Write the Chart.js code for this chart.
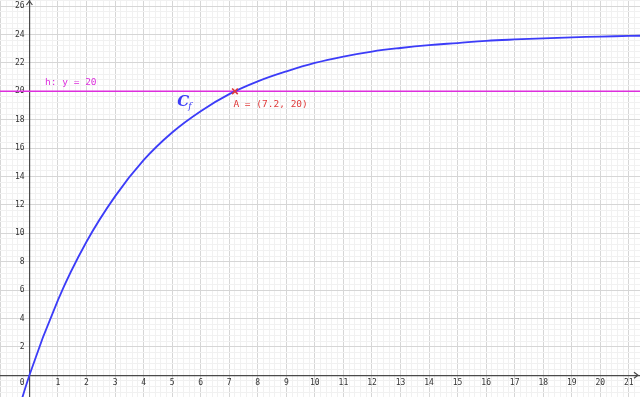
<!DOCTYPE html>
<html>
<head>
<meta charset="utf-8">
<script src="https://cdn.jsdelivr.net/npm/chart.js@4/dist/chart.umd.min.js"></script>
<style>
html,body{margin:0;padding:0;background:#fff}
canvas{display:block}
</style>
</head>
<body>
<canvas id="chart" width="640" height="397"></canvas>
<script>
// curve C_f
const curveX = [-1, 0, 1, 2, 3, 4, 5, 6, 7, 8, 9, 10, 11, 12, 13, 14, 15, 16, 17, 18, 19, 20, 21, 22];
const curveY = [-6.8, 0, 5.3, 9.4, 12.6, 15.15, 17.1, 18.6, 19.8, 20.7, 21.4, 22.0, 22.45, 22.8, 23.05, 23.25, 23.4, 23.55, 23.65, 23.73, 23.8, 23.85, 23.9, 23.93];
const hY = 20;
const pointA = { x: 7.2, y: 20 };
const xTickValues = [0,1,2,3,4,5,6,7,8,9,10,11,12,13,14,15,16,17,18,19,20,21];
const yTickValues = [2,4,6,8,10,12,14,16,18,20,22,24,26];
const xRange = [-1.03, 21.39];
const yRange = [-1.53, 26.43];

const BLUE = '#3c3cf8', MAGENTA = '#dd2edd', RED = '#e03a3a', AXIS = '#4a4a4a';
const MONO = '"DejaVu Sans Mono", monospace';

const isInt = (v, step) => Math.abs(v / step - Math.round(v / step)) < 1e-6;
const noPad = s => { s.paddingLeft = s.paddingRight = s.paddingTop = s.paddingBottom = 0; };

const extras = {
  id: 'extras',
  afterDatasetsDraw(c) {
    const { ctx, scales: { x, y } } = c;
    const ox = x.getPixelForValue(0), oy = y.getPixelForValue(0);
    ctx.save();
    // axis arrows
    ctx.strokeStyle = AXIS; ctx.lineWidth = 1.2;
    ctx.beginPath();
    ctx.moveTo(ox - 3, 5); ctx.lineTo(ox, 1); ctx.lineTo(ox + 3, 5);
    ctx.moveTo(c.width - 6, oy - 3); ctx.lineTo(c.width - 2, oy); ctx.lineTo(c.width - 6, oy + 3);
    ctx.stroke();
    // line label
    ctx.font = '9.5px ' + MONO;
    ctx.textBaseline = 'alphabetic';
    ctx.fillStyle = MAGENTA;
    ctx.fillText('h: y = ' + hY, x.getPixelForValue(0.55), y.getPixelForValue(hY) - 6.5);
    // point label
    ctx.fillStyle = RED;
    ctx.fillText('A = (' + pointA.x + ', ' + pointA.y + ')', x.getPixelForValue(pointA.x) - 1.5, y.getPixelForValue(pointA.y) + 15.5);
    // curve name
    ctx.fillStyle = BLUE;
    ctx.font = 'italic bold 15px "DejaVu Serif", serif';
    const cx = x.getPixelForValue(5.18), cy = y.getPixelForValue(18.97);
    ctx.fillText('C', cx, cy);
    ctx.font = 'italic 9px "DejaVu Serif", serif';
    ctx.fillText('f', cx + 11, cy + 3);
    ctx.restore();
  }
};

new Chart(document.getElementById('chart'), {
  type: 'line',
  data: {
    datasets: [
      {
        label: 'A',
        type: 'scatter',
        data: [pointA],
        pointStyle: 'crossRot',
        pointRadius: 4,
        pointBorderWidth: 1.6,
        borderColor: RED,
        backgroundColor: RED,
        order: 0
      },
      {
        label: 'Cf',
        data: curveX.map((v, i) => ({ x: v, y: curveY[i] })),
        borderColor: BLUE,
        borderWidth: 1.8,
        pointRadius: 0,
        tension: 0.4,
        fill: false,
        order: 1
      },
      {
        label: 'h',
        data: [{ x: xRange[0] - 1, y: hY }, { x: xRange[1] + 1, y: hY }],
        borderColor: MAGENTA,
        borderWidth: 1.4,
        pointRadius: 0,
        fill: false,
        order: 2
      }
    ]
  },
  options: {
    responsive: false,
    animation: false,
    layout: { padding: 0, autoPadding: false },
    plugins: { legend: { display: false }, tooltip: { enabled: false } },
    scales: {
      x: {
        type: 'linear',
        position: { y: 0 },
        min: xRange[0],
        max: xRange[1],
        afterFit: noPad,
        grid: {
          drawTicks: false,
          color: ctx => isInt(ctx.tick.value, 1) ? '#d6d6d6' : '#f1f1f1',
          lineWidth: 1
        },
        border: { display: true, color: AXIS, width: 1.2 },
        ticks: {
          stepSize: 0.2,
          includeBounds: false,
          autoSkip: false,
          maxRotation: 0,
          padding: 3,
          color: '#333',
          font: { family: MONO, size: 8 },
          callback: v => {
            const r = Math.round(v);
            if (!isInt(v, 1) || !xTickValues.includes(r)) return '';
            return r === 0 ? '0   ' : String(r);
          }
        }
      },
      y: {
        type: 'linear',
        position: { x: 0 },
        min: yRange[0],
        max: yRange[1],
        afterFit: noPad,
        grid: {
          drawTicks: false,
          color: ctx => isInt(ctx.tick.value, 2) ? '#d6d6d6' : '#f1f1f1',
          lineWidth: 1
        },
        border: { display: true, color: AXIS, width: 1.2 },
        ticks: {
          stepSize: 0.4,
          includeBounds: false,
          autoSkip: false,
          padding: 0,
          color: '#333',
          font: { family: MONO, size: 8 },
          callback: v => {
            const r = Math.round(v);
            if (!isInt(v, 2) || !yTickValues.includes(r)) return '';
            return r + ' ';
          }
        }
      }
    }
  },
  plugins: [extras]
});
</script>
</body>
</html>
